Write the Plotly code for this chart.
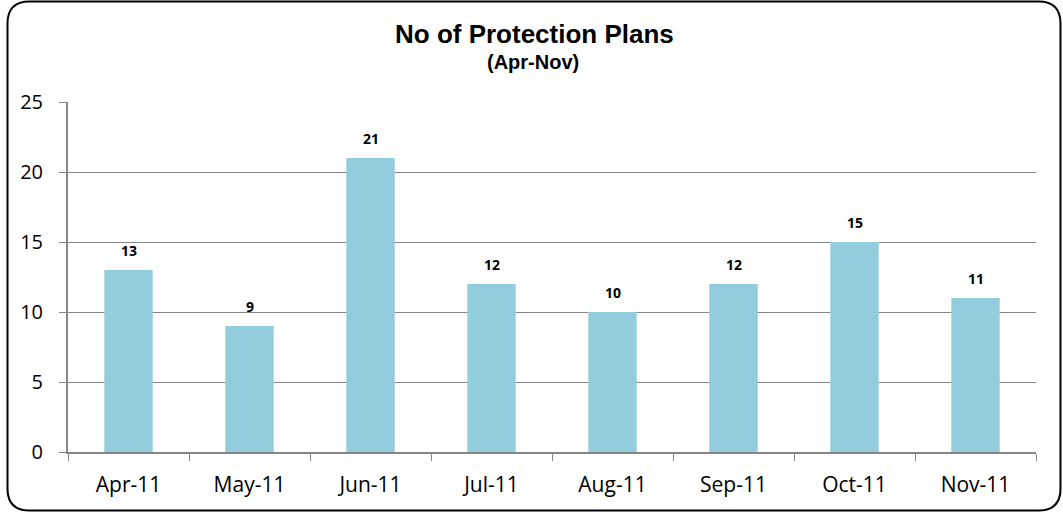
import plotly.graph_objects as go

months = ["Apr-11", "May-11", "Jun-11", "Jul-11", "Aug-11", "Sep-11", "Oct-11", "Nov-11"]
plans = [13, 9, 21, 12, 10, 12, 15, 11]
y_ticks = [0, 5, 10, 15, 20, 25]

W, H = 1063, 513
L, R, T, B = 68, 27, 102, 61
pw, ph = W - L - R, H - T - B

def px(x):
    return (x - L) / pw

def py(y):
    return (H - B - y) / ph

fig = go.Figure()
fig.add_trace(go.Bar(x=months, y=plans, marker=dict(color="#93CDDD", line=dict(width=0)),
                     hoverinfo="x+y"))

for m, v in zip(months, plans):
    fig.add_annotation(x=m, y=v, text=f"<b>{v}</b>", showarrow=False, yshift=20,
                       font=dict(family="Open Sans, Arial", size=14, color="#000000"))

# rounded border
x0, x1, y0, y1, r = 7.5, 1060.5, 1.5, 510.5, 22
path = (f"M {px(x0+r)},{py(y0)} L {px(x1-r)},{py(y0)} Q {px(x1)},{py(y0)} {px(x1)},{py(y0+r)} "
        f"L {px(x1)},{py(y1-r)} Q {px(x1)},{py(y1)} {px(x1-r)},{py(y1)} "
        f"L {px(x0+r)},{py(y1)} Q {px(x0)},{py(y1)} {px(x0)},{py(y1-r)} "
        f"L {px(x0)},{py(y0+r)} Q {px(x0)},{py(y0)} {px(x0+r)},{py(y0)} Z")
fig.add_shape(type="path", path=path, xref="paper", yref="paper",
              line=dict(color="#000000", width=2), layer="above")

fig.add_annotation(text="<b>No of Protection Plans</b>", xref="paper", yref="paper",
                   x=px(534), y=py(34), showarrow=False, xanchor="center", yanchor="middle",
                   font=dict(family="Liberation Sans, Arial", size=26, color="#000000"))
fig.add_annotation(text="<b>(Apr-Nov)</b>", xref="paper", yref="paper",
                   x=px(533), y=py(62), showarrow=False, xanchor="center", yanchor="middle",
                   font=dict(family="Liberation Sans, Arial", size=20, color="#000000"))

fig.update_layout(
    width=W, height=H,
    margin=dict(l=L, r=R, t=T, b=B),
    paper_bgcolor="#FFFFFF", plot_bgcolor="#FFFFFF",
    bargap=0.6, showlegend=False,
    font=dict(family="Open Sans, Arial", color="#000000"),
)
fig.update_xaxes(type="category", showline=True, linecolor="#868686", linewidth=2,
                 ticks="outside", tickson="boundaries", ticklen=7, tickcolor="#868686",
                 tickfont=dict(size=21), showgrid=False, ticklabelstandoff=13)
fig.update_yaxes(range=[0, 25], tickvals=y_ticks, showline=True, linecolor="#868686", linewidth=2,
                 ticks="outside", ticklen=7, tickcolor="#868686", tickfont=dict(size=20),
                 showgrid=True, gridcolor="#868686", gridwidth=1, zeroline=False, ticklabelstandoff=12)

fig.write_html("out.html", config={"displayModeBar": False},
               post_script="document.body.style.margin='0';document.body.style.padding='0';")
